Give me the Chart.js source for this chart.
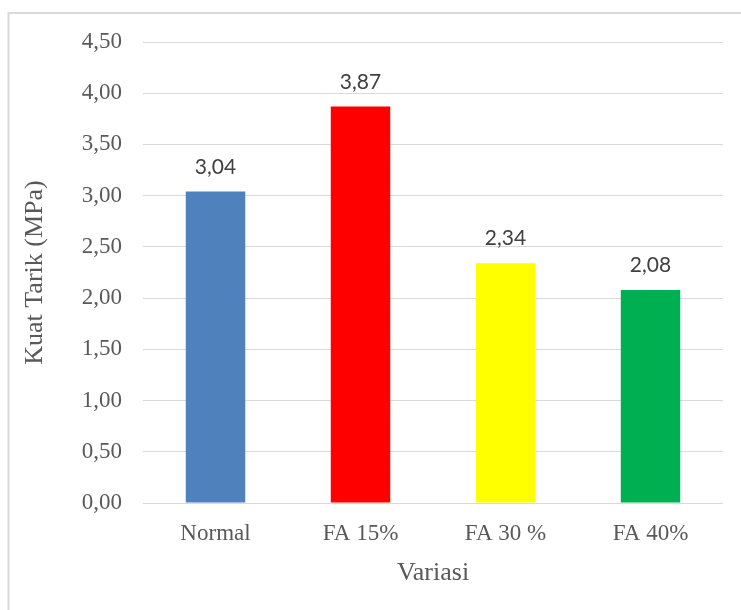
<!DOCTYPE html>
<html>
<head>
<meta charset="utf-8">
<script src="https://cdn.jsdelivr.net/npm/chart.js@4"></script>
<style>
  html, body { margin: 0; padding: 0; background: #ffffff; overflow: hidden; }
  #wrap { width: 741px; height: 610px; position: relative; }
</style>
</head>
<body>
<div id="wrap"><canvas id="c" width="741" height="610"></canvas></div>
<script>
const categories = ["Normal", "FA 15%", "FA 30 %", "FA 40%"];
const values = [3.04, 3.87, 2.34, 2.08];
const barColors = ["#4f81bd", "#ff0000", "#ffff00", "#00b050"];
const yTickValues = [0, 0.5, 1, 1.5, 2, 2.5, 3, 3.5, 4, 4.5];
const yTitle = "Kuat Tarik (MPa)";
const xTitle = "Variasi";

const fmt = v => v.toFixed(2).replace('.', ',');

const frame = {
  id: 'frame',
  beforeDraw(chart) {
    const ctx = chart.ctx;
    ctx.save();
    ctx.strokeStyle = '#d9d9d9';
    ctx.lineWidth = 2;
    ctx.beginPath();
    ctx.moveTo(8.5, 620);
    ctx.lineTo(8.5, 13);
    ctx.lineTo(760, 13);
    ctx.stroke();
    ctx.restore();
  }
};

const valueLabels = {
  id: 'valueLabels',
  afterDatasetsDraw(chart) {
    const ctx = chart.ctx;
    const meta = chart.getDatasetMeta(0);
    ctx.save();
    ctx.font = '21px Lato, "Open Sans", sans-serif';
    ctx.fillStyle = '#404040';
    ctx.textAlign = 'center';
    ctx.textBaseline = 'alphabetic';
    meta.data.forEach((bar, i) => {
      ctx.fillText(fmt(chart.data.datasets[0].data[i]), bar.x, bar.y - 18);
    });
    ctx.restore();
  }
};

new Chart(document.getElementById('c'), {
  type: 'bar',
  data: {
    labels: categories,
    datasets: [{
      data: values,
      backgroundColor: barColors,
      borderWidth: 0,
      categoryPercentage: 1.0,
      barPercentage: 0.41
    }]
  },
  options: {
    responsive: false,
    animation: false,
    devicePixelRatio: 1,
    layout: { padding: { left: 14, right: 18, top: 42, bottom: 0 } },
    plugins: {
      legend: { display: false },
      tooltip: { enabled: false }
    },
    scales: {
      x: {
        grid: { display: false, drawTicks: false },
        border: { display: false },
        ticks: {
          color: '#595959',
          font: { family: '"Liberation Serif", "Times New Roman", serif', size: 23 },
          padding: 17,
          maxRotation: 0
        },
        title: {
          display: true,
          text: xTitle,
          color: '#595959',
          font: { family: '"Liberation Serif", "Times New Roman", serif', size: 26 },
          padding: { top: 0, bottom: 21 }
        },
        afterFit(axis) { axis.height = 107; }
      },
      y: {
        min: 0,
        max: 4.5,
        afterBuildTicks(axis) { axis.ticks = yTickValues.map(v => ({ value: v })); },
        grid: { color: '#d9d9d9', lineWidth: 1, drawTicks: false },
        border: { display: false },
        ticks: {
          color: '#595959',
          font: { family: '"Liberation Serif", "Times New Roman", serif', size: 23 },
          padding: 21,
          callback: v => fmt(v)
        },
        title: {
          display: true,
          text: yTitle,
          color: '#595959',
          font: { family: '"Liberation Serif", "Times New Roman", serif', size: 26 },
          padding: { top: 6, bottom: 0 }
        },
        afterFit(axis) { axis.width = 129; }
      }
    }
  },
  plugins: [frame, valueLabels]
});
</script>
</body>
</html>
